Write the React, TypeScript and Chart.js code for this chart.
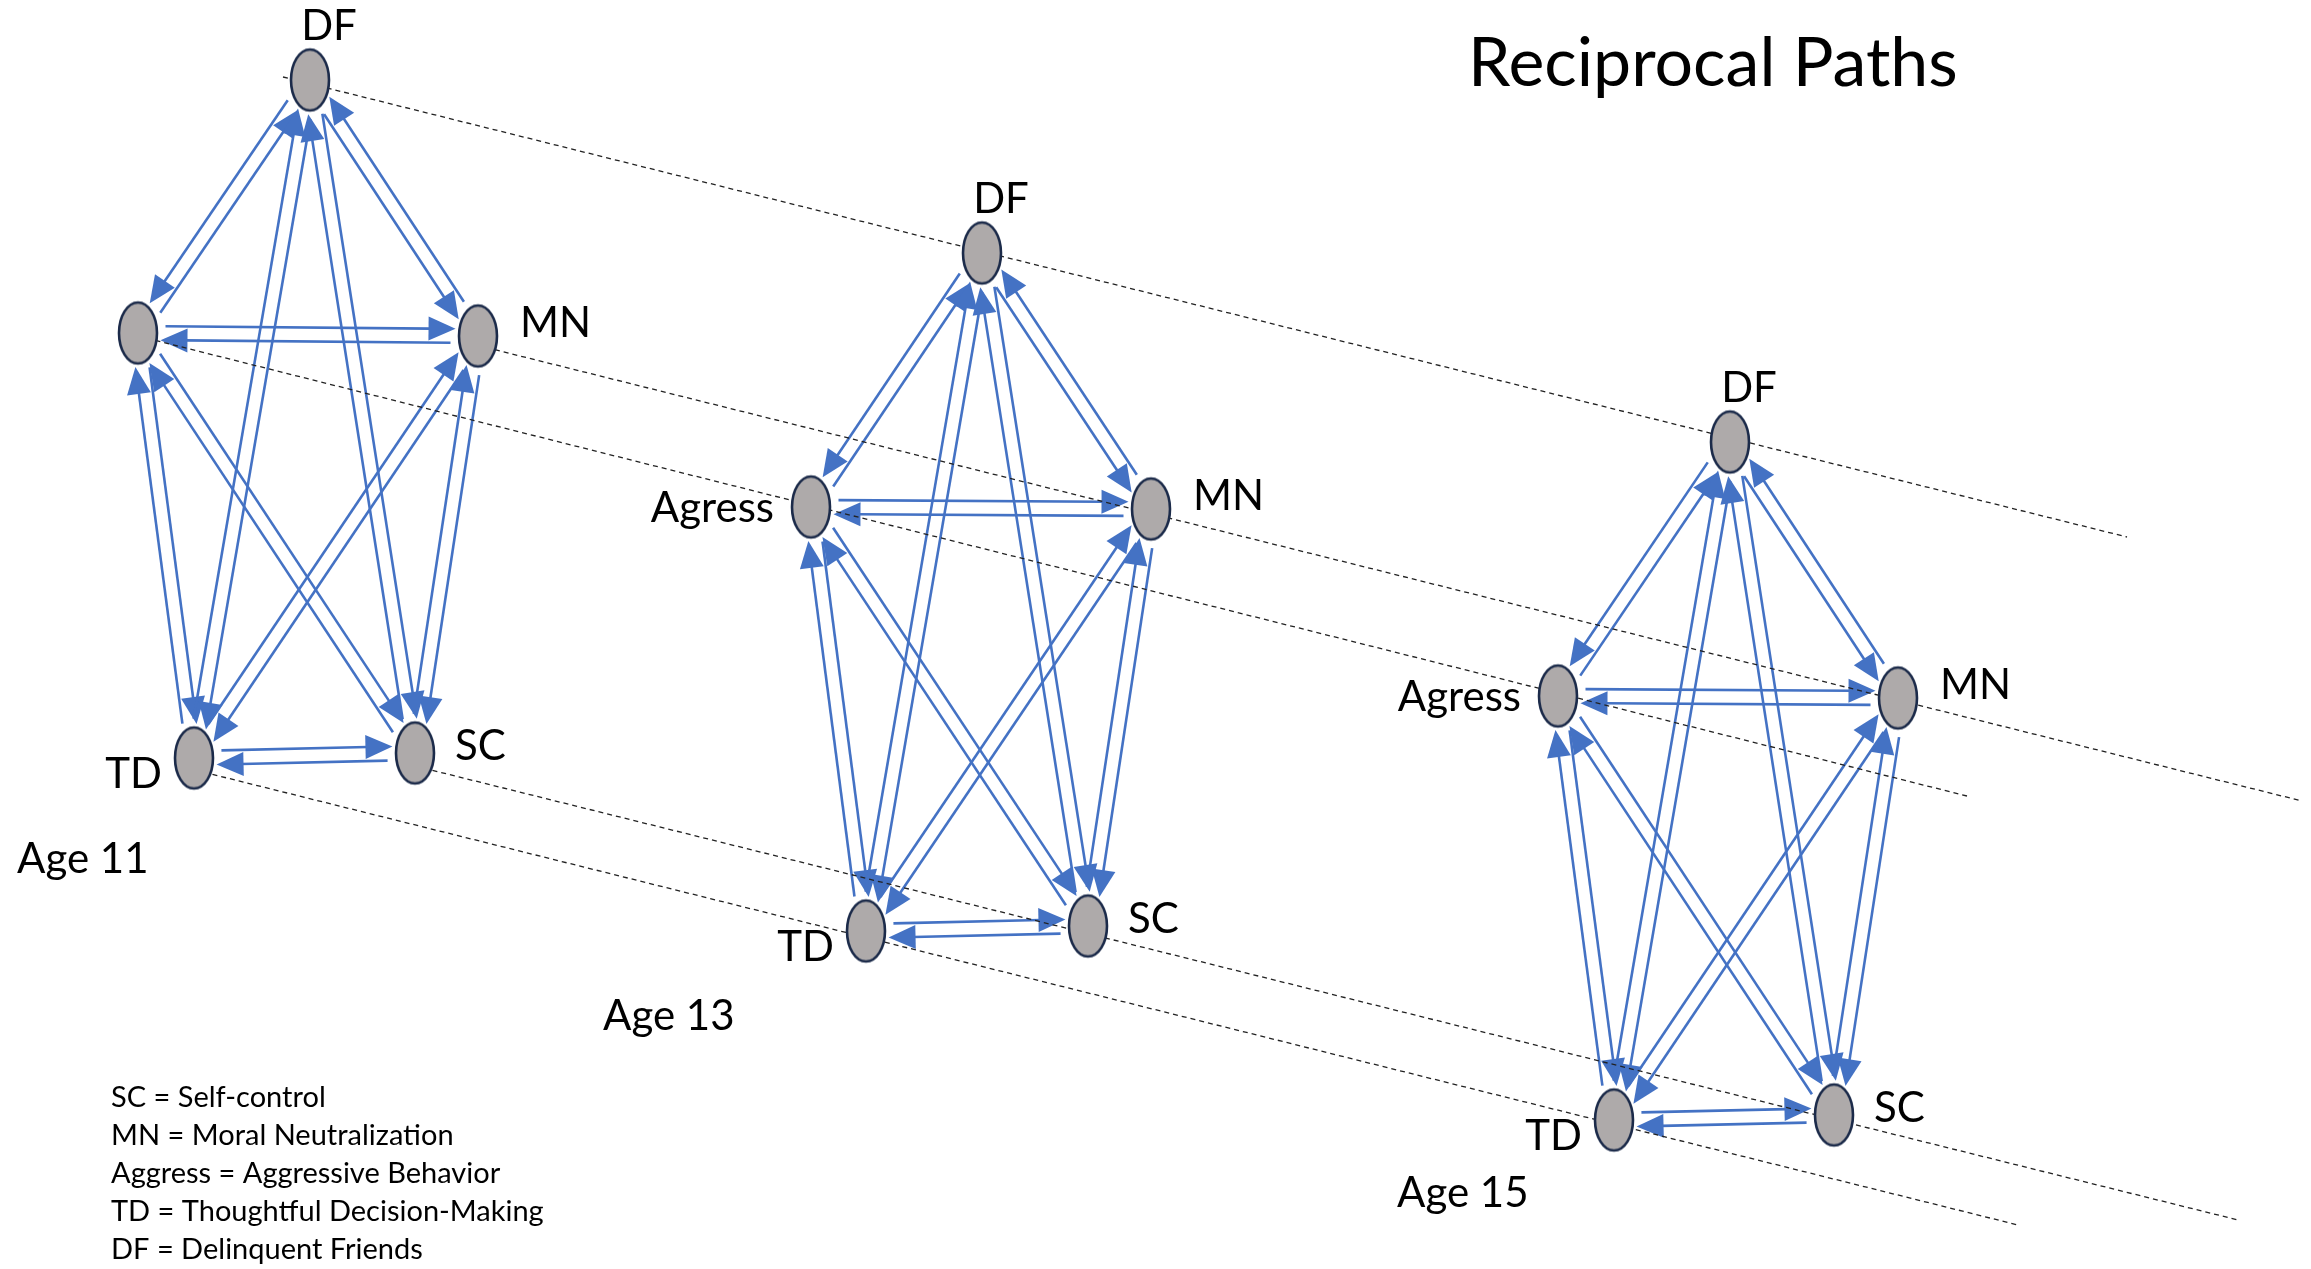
import React, { useEffect, useRef } from "react";
import { Chart, registerables } from "chart.js";

Chart.register(...registerables);

// ---------- data ----------
const VARIABLES = ["DF", "Agress", "MN", "TD", "SC"];
const AGE_LABELS = ["Age 11", "Age 13", "Age 15"];

const NODE_X_AGE11 = [310, 138, 478, 194, 415];
const NODE_Y_AGE11 = [80, 333, 336, 758, 753];
const NODE_X_AGE13 = [982, 811, 1151, 866, 1088];
const NODE_Y_AGE13 = [253, 507, 509, 931, 926];
const NODE_X_AGE15 = [1730, 1558, 1898, 1614, 1834];
const NODE_Y_AGE15 = [442, 696, 698, 1120, 1115];

const NODE_LABELS_AGE11 = ["DF", "", "MN", "TD", "SC"];
const NODE_LABELS_AGE13 = ["DF", "Agress", "MN", "TD", "SC"];
const NODE_LABELS_AGE15 = ["DF", "Agress", "MN", "TD", "SC"];

const AGE_LABEL_X = [17, 603, 1397];
const AGE_LABEL_Y = [873, 1030, 1207];

// reciprocal paths (each pair drawn both ways)
const PATH_FROM = ["DF", "DF", "Agress", "Agress", "TD", "MN", "DF", "DF", "Agress", "MN"];
const PATH_TO = ["Agress", "MN", "MN", "TD", "SC", "SC", "TD", "SC", "SC", "TD"];
const PATH_SIDE = [1, 1, -1, -1, -1, -1, -1, -1, -1, -1];

// dashed trajectory lines across ages (DF, Agress, MN, TD, SC)
const TREND_START_X = [283, 138, 460, 195, 415];
const TREND_START_Y = [77, 336, 341, 770, 766];
const TREND_END_X = [2127, 1967, 2302, 2018, 2238];
const TREND_END_Y = [537, 796, 801, 1225, 1220];

const TITLE = "Reciprocal Paths";
const TITLE_X = 1468;
const TITLE_Y = 86;

const LEGEND_LINES = [
  "SC = Self-control",
  "MN = Moral Neutralization",
  "Aggress = Aggressive Behavior",
  "TD = Thoughtful Decision-Making",
  "DF = Delinquent Friends",
];
const LEGEND_X = 111;
const LEGEND_Y = [1107, 1145, 1183, 1221, 1259];

// ---------- style ----------
const W = 2311;
const H = 1269;
const RX = 19;
const RY = 30.5;
const NODE_FILL = "#AEAAAA";
const NODE_STROKE = "#1C2B4A";
const ARROW_COLOR = "#4472C4";
const LINE_OFFSET = 7;
const HEAD_LEN = 27;
const HEAD_HALF = 12;
const GAP_START = 9;
const GAP_END = 4;
const FONT = "Lato, 'Open Sans', sans-serif";

const LABEL_DX = [19, -37, 42, -32, 40];
const LABEL_DY = [-40, 15, 1, 30, 7];
const LABEL_ALIGN: CanvasTextAlign[] = ["center", "right", "left", "right", "left"];

const NODE_SETS = [
  { xs: NODE_X_AGE11, ys: NODE_Y_AGE11, labels: NODE_LABELS_AGE11 },
  { xs: NODE_X_AGE13, ys: NODE_Y_AGE13, labels: NODE_LABELS_AGE13 },
  { xs: NODE_X_AGE15, ys: NODE_Y_AGE15, labels: NODE_LABELS_AGE15 },
];

function makeEllipseImage(): HTMLCanvasElement {
  const c = document.createElement("canvas");
  c.width = Math.ceil(RX * 2 + 6);
  c.height = Math.ceil(RY * 2 + 6);
  const g = c.getContext("2d")!;
  g.beginPath();
  g.ellipse(c.width / 2, c.height / 2, RX, RY, 0, 0, Math.PI * 2);
  g.fillStyle = NODE_FILL;
  g.fill();
  g.lineWidth = 2.6;
  g.strokeStyle = NODE_STROKE;
  g.stroke();
  return c;
}

function exitT(px: number, py: number, ux: number, uy: number): number {
  const a = (ux * ux) / (RX * RX) + (uy * uy) / (RY * RY);
  const b = 2 * ((px * ux) / (RX * RX) + (py * uy) / (RY * RY));
  const c = (px * px) / (RX * RX) + (py * py) / (RY * RY) - 1;
  const d = b * b - 4 * a * c;
  if (d < 0) return 0;
  return (-b + Math.sqrt(d)) / (2 * a);
}

const arrowPlugin = {
  id: "reciprocalArrows",
  beforeDatasetsDraw(chart: any) {
    const ctx: CanvasRenderingContext2D = chart.ctx;
    ctx.save();
    ctx.strokeStyle = ARROW_COLOR;
    ctx.fillStyle = ARROW_COLOR;
    ctx.lineWidth = 2.6;
    ctx.lineCap = "butt";
    for (let k = 0; k < NODE_SETS.length; k++) {
      const meta = chart.getDatasetMeta(k);
      const pts = meta.data;
      for (let p = 0; p < PATH_FROM.length; p++) {
        const ia = VARIABLES.indexOf(PATH_FROM[p]);
        const ib = VARIABLES.indexOf(PATH_TO[p]);
        const A = pts[ia];
        const B = pts[ib];
        for (const dir of [0, 1]) {
          const S = dir === 0 ? A : B;
          const E = dir === 0 ? B : A;
          const dx = E.x - S.x;
          const dy = E.y - S.y;
          const len = Math.hypot(dx, dy);
          const ux = dx / len;
          const uy = dy / len;
          const nx = -uy;
          const ny = ux;
          const off = PATH_SIDE[p] * LINE_OFFSET;
          const ox = nx * off;
          const oy = ny * off;
          const t0 = exitT(ox, oy, ux, uy);
          const t1 = exitT(ox, oy, -ux, -uy);
          const sx = S.x + ox + ux * (t0 + GAP_START);
          const sy = S.y + oy + uy * (t0 + GAP_START);
          const tx = E.x + ox - ux * (t1 + GAP_END);
          const ty = E.y + oy - uy * (t1 + GAP_END);
          const bx = tx - ux * HEAD_LEN;
          const by = ty - uy * HEAD_LEN;
          ctx.beginPath();
          ctx.moveTo(sx, sy);
          ctx.lineTo(bx + ux * 2, by + uy * 2);
          ctx.stroke();
          ctx.beginPath();
          ctx.moveTo(tx, ty);
          ctx.lineTo(bx + nx * HEAD_HALF, by + ny * HEAD_HALF);
          ctx.lineTo(bx - nx * HEAD_HALF, by - ny * HEAD_HALF);
          ctx.closePath();
          ctx.fill();
        }
      }
    }
    ctx.restore();
  },
};

const textPlugin = {
  id: "diagramText",
  afterDatasetsDraw(chart: any) {
    const ctx: CanvasRenderingContext2D = chart.ctx;
    const xs = chart.scales.x;
    const ys = chart.scales.y;
    ctx.save();
    ctx.fillStyle = "#000000";
    ctx.textBaseline = "alphabetic";
    // node labels
    ctx.font = `42px ${FONT}`;
    for (let k = 0; k < NODE_SETS.length; k++) {
      const pts = chart.getDatasetMeta(k).data;
      NODE_SETS[k].labels.forEach((lab, i) => {
        if (!lab) return;
        ctx.textAlign = LABEL_ALIGN[i];
        ctx.fillText(lab, pts[i].x + LABEL_DX[i], pts[i].y + LABEL_DY[i]);
      });
    }
    // age labels
    ctx.textAlign = "left";
    AGE_LABELS.forEach((lab, i) => {
      ctx.fillText(lab, xs.getPixelForValue(AGE_LABEL_X[i]), ys.getPixelForValue(AGE_LABEL_Y[i]));
    });
    // title
    ctx.font = `68px ${FONT}`;
    ctx.fillText(TITLE, xs.getPixelForValue(TITLE_X), ys.getPixelForValue(TITLE_Y));
    // legend
    ctx.font = `29px ${FONT}`;
    LEGEND_LINES.forEach((lab, i) => {
      ctx.fillText(lab, xs.getPixelForValue(LEGEND_X), ys.getPixelForValue(LEGEND_Y[i]));
    });
    ctx.restore();
  },
};

export default function App() {
  const ref = useRef<HTMLCanvasElement | null>(null);

  useEffect(() => {
    document.body.style.margin = "0";
    const canvas = ref.current;
    if (!canvas) return;
    const ellipseImg = makeEllipseImage();

    const nodeDatasets = NODE_SETS.map((set, k) => ({
      type: "scatter" as const,
      label: AGE_LABELS[k],
      data: set.xs.map((x, i) => ({ x, y: set.ys[i] })),
      pointStyle: ellipseImg,
      pointRadius: 20,
      order: 0,
      clip: false,
    }));

    const trendDatasets = VARIABLES.map((v, i) => ({
      type: "line" as const,
      label: `${v} trajectory`,
      data: [
        { x: TREND_START_X[i], y: TREND_START_Y[i] },
        { x: TREND_END_X[i], y: TREND_END_Y[i] },
      ],
      borderColor: "#222222",
      borderWidth: 1.3,
      borderDash: [5, 4],
      pointRadius: 0,
      fill: false,
      order: 1,
    }));

    const chart = new Chart(canvas, {
      type: "scatter",
      data: { datasets: [...nodeDatasets, ...trendDatasets] as any },
      options: {
        animation: false,
        responsive: false,
        devicePixelRatio: 1,
        events: [],
        layout: { padding: 0, autoPadding: false },
        plugins: {
          legend: { display: false },
          tooltip: { enabled: false },
          title: { display: false },
        },
        scales: {
          x: { type: "linear", min: 0, max: W, display: false },
          y: { type: "linear", min: 0, max: H, reverse: true, display: false },
        },
      },
      plugins: [arrowPlugin, textPlugin],
    });
    return () => chart.destroy();
  }, []);

  return (
    <div style={{ width: W, height: H, background: "#ffffff" }}>
      <canvas ref={ref} width={W} height={H} style={{ display: "block" }} />
    </div>
  );
}
